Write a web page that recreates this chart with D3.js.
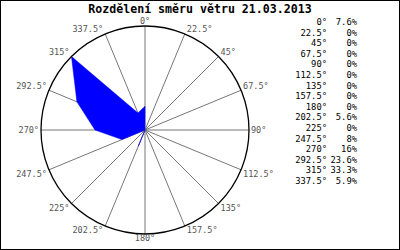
<!DOCTYPE html>
<html>
<head>
<meta charset="utf-8">
<script src="https://cdn.jsdelivr.net/npm/d3@7"></script>
<style>
  body { margin: 0; background: #fff; }
  svg { display: block; }
</style>
</head>
<body>
<div id="chart"></div>
<script>
// wind directions (degrees, clockwise from north) and share of measurements (%)
const directions = [0, 22.5, 45, 67.5, 90, 112.5, 135, 157.5, 180, 202.5, 225, 247.5, 270, 292.5, 315, 337.5];
const shares = [7.6, 0, 0, 0, 0, 0, 0, 0, 0, 5.6, 0, 8, 16, 23.6, 33.3, 5.9];
const title = "Rozdělení směru větru 21.03.2013";

const W = 400, H = 250;
const cx = 145, cy = 130, R = 104;

const svg = d3.select("#chart")
    .append("svg")
    .attr("width", W)
    .attr("height", H);

// frame round the whole picture
svg.append("rect")
    .attr("x", 0.5).attr("y", 0.5)
    .attr("width", W - 1).attr("height", H - 1)
    .attr("fill", "#fff")
    .attr("stroke", "#000");

// title
svg.append("text")
    .attr("x", 200)
    .attr("y", 13)
    .attr("text-anchor", "middle")
    .style("font-family", "'DejaVu Sans Mono', monospace")
    .style("font-weight", "bold")
    .style("font-size", "11.6px")
    .text(title);

const rScale = d3.scaleLinear()
    .domain([0, d3.max(shares)])
    .range([0, R]);

const angle = d => d * Math.PI / 180;

const g = svg.append("g")
    .attr("transform", `translate(${cx}, ${cy})`);

// spokes
g.selectAll("line.spoke")
    .data(directions)
    .enter()
    .append("line")
    .attr("class", "spoke")
    .attr("x1", 0).attr("y1", 0)
    .attr("x2", d => R * Math.sin(angle(d)))
    .attr("y2", d => -R * Math.cos(angle(d)))
    .attr("stroke", "#777")
    .attr("stroke-width", 1);

// data polygon
const radial = d3.lineRadial()
    .angle((d, i) => angle(directions[i]))
    .radius(d => rScale(d))
    .curve(d3.curveLinearClosed);

g.append("path")
    .datum(shares)
    .attr("d", radial)
    .attr("fill", "#0000ff")
    .attr("stroke", "#0000ff")
    .attr("stroke-width", 0.5);

// outer circle
g.append("circle")
    .attr("r", R)
    .attr("fill", "none")
    .attr("stroke", "#000")
    .attr("stroke-width", 1.3);

// direction labels round the circle
g.selectAll("text.dir")
    .data(directions)
    .enter()
    .append("text")
    .attr("class", "dir")
    .attr("x", d => {
        const s = Math.sin(angle(d));
        return R * s + (s > 0.1 ? 2 : s < -0.1 ? -2 : 0);
    })
    .attr("y", d => -R * Math.cos(angle(d)))
    .attr("dy", d => {
        const c = Math.cos(angle(d));
        if (c > 0.1) return "-0.2em";
        if (c < -0.1) return "0.85em";
        return "0.35em";
    })
    .attr("text-anchor", d => {
        const s = Math.sin(angle(d));
        return s > 0.1 ? "start" : s < -0.1 ? "end" : "middle";
    })
    .style("font-family", "'DejaVu Sans Mono', monospace")
    .style("font-size", "8.5px")
    .style("fill", "#555")
    .text(d => `${d}°`);

// legend table on the right
const legend = svg.append("g");
const rowY = i => 22 + i * 10.6;

legend.selectAll("text.deg")
    .data(directions)
    .enter()
    .append("text")
    .attr("class", "deg")
    .attr("x", 327)
    .attr("y", (d, i) => rowY(i))
    .attr("dy", "0.35em")
    .attr("text-anchor", "end")
    .style("font-family", "'DejaVu Sans Mono', monospace")
    .style("font-size", "8.8px")
    .text(d => `${d}°`);

legend.selectAll("text.pct")
    .data(shares)
    .enter()
    .append("text")
    .attr("class", "pct")
    .attr("x", 357)
    .attr("y", (d, i) => rowY(i))
    .attr("dy", "0.35em")
    .attr("text-anchor", "end")
    .style("font-family", "'DejaVu Sans Mono', monospace")
    .style("font-size", "8.8px")
    .text(d => `${d}%`);
</script>
</body>
</html>
